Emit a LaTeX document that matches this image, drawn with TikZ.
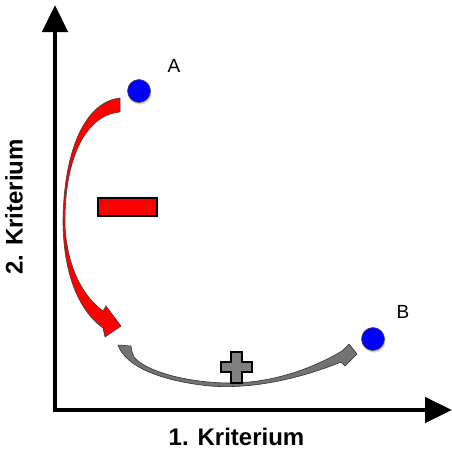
\documentclass[tikz,border=0pt]{standalone}
\usepackage{fontspec}
\setmainfont{Liberation Sans}
\usetikzlibrary{arrows.meta,shadows}
\begin{document}
\begin{tikzpicture}[x=1pt,y=-1pt,
  axis/.style={line width=4.5pt,-{Triangle[length=27pt,width=25pt]}},
  pt/.style={circle,fill=blue,draw=black!70,line width=0.6pt,minimum size=23pt,inner sep=0pt,
     drop shadow={opacity=0.35,shadow xshift=1pt,shadow yshift=-2pt}},
  lbl/.style={font=\fontsize{19}{22}\selectfont,inner sep=0pt},
  axlbl/.style={font=\fontsize{24}{28}\selectfont\bfseries,inner sep=0pt},
  redarrow/.style={fill=red,draw=black!75,line width=0.6pt,line join=round},
  grayarrow/.style={fill=black!55,draw=black!80,line width=0.6pt,line join=round},
  sign/.style={draw=black,line width=1.3pt}]
\useasboundingbox (0,0) rectangle (451,455);
\fill[white] (0,0) rectangle (451,455);
% axes
\coordinate (O) at (55,410);
\coordinate (Ytip) at (55,5);
\coordinate (Xtip) at (452,410);
\draw[axis] (55,412) -- (Ytip);
\draw[axis] (53,410) -- (Xtip);
\node[axlbl] (xl) at (236.5,437) {1. Kriterium};
\node[axlbl,rotate=90] (yl) at (14,207) {2. Kriterium};
% points
\node[pt] (A) at (139,91) {};
\node[pt] (B) at (373,339) {};
\node[lbl] (Al) at (174,66) {A};
\node[lbl] (Bl) at (403,312) {B};
% red arrow
\path[redarrow] (120,98) .. controls (85,102) and (64,150) .. (63,220)
  .. controls (63,272) and (78,310) .. (103,328)
  -- (105,337) -- (121,326) -- (106,306) -- (103,311)
  .. controls (85,298) and (67,270) .. (65,225)
  .. controls (64,160) and (85,115) .. (120,112) -- cycle;
% minus
\node[sign,fill=red,minimum width=59pt,minimum height=18pt,inner sep=0pt] (minus) at (127.5,207) {};
% gray arrow
\path[grayarrow] (118,345) .. controls (125,366) and (160,381) .. (210,386)
  .. controls (260,390) and (312,374) .. (341,362)
  -- (345,366) -- (357,354) -- (349,344) -- (342,351)
  .. controls (310,370) and (270,383) .. (230,383)
  .. controls (190,383) and (146,372) .. (134,357)
  .. controls (132,352) and (131,349) .. (131,346) -- cycle;
% plus
\path[sign,fill=black!50,line width=1.2pt,line join=miter]
  (231,352) -- (242,352) -- (242,362) -- (252,362) -- (252,372) -- (242,372)
  -- (242,383) -- (231,383) -- (231,372) -- (221,372) -- (221,362) -- (231,362) -- cycle;
\end{tikzpicture}
\end{document}
